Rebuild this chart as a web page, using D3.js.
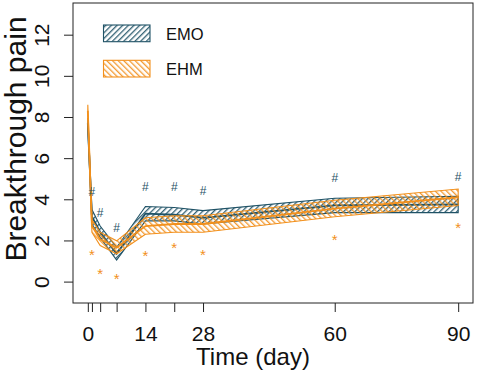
<!DOCTYPE html>
<html>
<head>
<meta charset="utf-8">
<script src="https://cdn.jsdelivr.net/npm/d3@7"></script>
<style>
  body { margin: 0; background: #fff; }
  text { font-family: "Liberation Sans", Arial, sans-serif; }
</style>
</head>
<body>
<div id="chart"></div>
<script>
// data
var days = [0, 1, 3, 7, 14, 21, 28, 60, 90];
var emoMean = [7.7, 3.15, 2.4, 1.35, 3.3, 3.25, 3.1, 3.7, 3.75];
var emoLo   = [7.45, 2.8, 2.15, 1.05, 2.95, 2.95, 2.8, 3.35, 3.35];
var emoHi   = [7.95, 3.5, 2.7, 1.66, 3.65, 3.6, 3.45, 4.05, 4.15];
var ehmMean = [8.3, 2.7, 2.05, 1.65, 2.7, 2.8, 2.8, 3.55, 4.1];
var ehmLo   = [8.0, 2.4, 1.75, 1.35, 2.3, 2.4, 2.4, 3.15, 3.7];
var ehmHi   = [8.6, 3.0, 2.4, 1.98, 3.1, 3.2, 3.2, 3.95, 4.5];
// significance markers (# = EMO, * = EHM)
var hashY = [null, 4.4, 3.35, 2.63, 4.64, 4.64, 4.43, 5.04, 5.12];
var starY = [null, 1.39, 0.45, 0.21, 1.34, 1.71, 1.39, 2.11, 2.7];
var xTicks = [0, 1, 3, 7, 14, 21, 28, 60, 90];
var xLabels = [0, 14, 28, 60, 90];
var yTicks = [0, 2, 4, 6, 8, 10, 12];

var W = 477, H = 376;
var MARGIN = {LEFT: 73, RIGHT: 4, TOP: 3, BOTTOM: 73};
var TEAL = "#1f5266", ORANGE = "#f2901c";

var svg = d3.select("#chart").append("svg")
    .attr("width", W).attr("height", H);

var x = d3.scaleLinear().domain([-3.6, 93.6]).range([MARGIN.LEFT, W - MARGIN.RIGHT]);
var y = d3.scaleLinear().domain([-1.04, 13.54]).range([H - MARGIN.BOTTOM, MARGIN.TOP]);

// hatch patterns
var defs = svg.append("defs");
function hatch(id, color, angle) {
    var p = defs.append("pattern")
        .attr("id", id)
        .attr("patternUnits", "userSpaceOnUse")
        .attr("width", 4).attr("height", 4)
        .attr("patternTransform", "rotate(" + angle + ")");
    p.append("line")
        .attr("x1", 0.7).attr("y1", 0).attr("x2", 0.7).attr("y2", 4)
        .attr("stroke", color).attr("stroke-width", 1.2);
}
hatch("hEMO", TEAL, 45);
hatch("hEHM", ORANGE, -45);

var series = [
    {name: "EMO", color: TEAL, pat: "hEMO", mean: emoMean, lo: emoLo, hi: emoHi},
    {name: "EHM", color: ORANGE, pat: "hEHM", mean: ehmMean, lo: ehmLo, hi: ehmHi}
];

var area = d3.area()
    .x(function(d) { return x(d.t); })
    .y0(function(d) { return y(d.lo); })
    .y1(function(d) { return y(d.hi); });
var line = d3.line()
    .x(function(d) { return x(d.t); })
    .y(function(d) { return y(d.v); });

series.forEach(function(s) {
    var rows = days.map(function(t, i) { return {t: t, lo: s.lo[i], hi: s.hi[i], v: s.mean[i]}; });
    svg.append("path")
        .attr("d", area(rows))
        .attr("fill", "url(#" + s.pat + ")")
        .attr("stroke", s.color)
        .attr("stroke-width", 1.1);
    svg.append("path")
        .attr("d", line(rows))
        .attr("fill", "none")
        .attr("stroke", s.color)
        .attr("stroke-width", 1.8);
});

// markers
svg.append("g").selectAll("text")
    .data(days.map(function(t, i) { return {t: t, v: hashY[i]}; }).filter(function(d) { return d.v != null; }))
    .enter().append("text")
    .attr("x", function(d) { return x(d.t); })
    .attr("y", function(d) { return y(d.v) + 4.5; })
    .attr("text-anchor", "middle")
    .attr("fill", TEAL)
    .style("font-size", "12px")
    .text("#");
svg.append("g").selectAll("text")
    .data(days.map(function(t, i) { return {t: t, v: starY[i]}; }).filter(function(d) { return d.v != null; }))
    .enter().append("text")
    .attr("x", function(d) { return x(d.t); })
    .attr("y", function(d) { return y(d.v) + 6.5; })
    .attr("text-anchor", "middle")
    .attr("fill", ORANGE)
    .style("font-size", "15px")
    .text("*");

// box
svg.append("rect")
    .attr("x", MARGIN.LEFT).attr("y", MARGIN.TOP)
    .attr("width", W - MARGIN.LEFT - MARGIN.RIGHT)
    .attr("height", H - MARGIN.TOP - MARGIN.BOTTOM)
    .attr("fill", "none").attr("stroke", "#222").attr("stroke-width", 1);

// x axis
var xAxis = svg.append("g")
    .attr("transform", "translate(0," + (H - MARGIN.BOTTOM) + ")")
    .call(d3.axisBottom(x).tickValues(xTicks).tickSize(9).tickSizeOuter(0)
        .tickFormat(function(d) { return xLabels.indexOf(d) >= 0 ? d : ""; }));
xAxis.select(".domain").remove();
xAxis.selectAll("line").attr("stroke", "#222");
xAxis.selectAll("text")
    .attr("y", 0).attr("dy", null)
    .attr("transform", "translate(0,38)")
    .attr("fill", "#111")
    .style("font-size", "21px")
    .style("font-family", "Liberation Sans, Arial, sans-serif");

// y axis
var yAxis = svg.append("g")
    .attr("transform", "translate(" + MARGIN.LEFT + ",0)")
    .call(d3.axisLeft(y).tickValues(yTicks).tickSize(9).tickSizeOuter(0));
yAxis.select(".domain").remove();
yAxis.selectAll("line").attr("stroke", "#222");
yAxis.selectAll("text")
    .attr("x", 0).attr("dy", null)
    .attr("text-anchor", "middle")
    .attr("transform", "translate(-24,0) rotate(-90)")
    .attr("fill", "#111")
    .style("font-size", "21px")
    .style("font-family", "Liberation Sans, Arial, sans-serif");

// titles
svg.append("text")
    .attr("x", 253).attr("y", 365)
    .attr("text-anchor", "middle")
    .attr("fill", "#111")
    .style("font-size", "24px")
    .text("Time (day)");
svg.append("text")
    .attr("transform", "translate(26,139) rotate(-90)")
    .attr("text-anchor", "middle")
    .attr("fill", "#111")
    .style("font-size", "30px")
    .text("Breakthrough pain");

// legend
var legend = svg.append("g");
series.forEach(function(s, i) {
    var ly = 25 + i * 35.3;
    legend.append("rect")
        .attr("x", 103.5).attr("y", ly)
        .attr("width", 46.5).attr("height", 16.7)
        .attr("fill", "url(#" + s.pat + ")")
        .attr("stroke", s.color).attr("stroke-width", 1.1);
    legend.append("text")
        .attr("x", 166).attr("y", ly + 14.5)
        .attr("fill", "#111")
        .style("font-size", "16.5px")
        .text(s.name);
});
</script>
</body>
</html>
